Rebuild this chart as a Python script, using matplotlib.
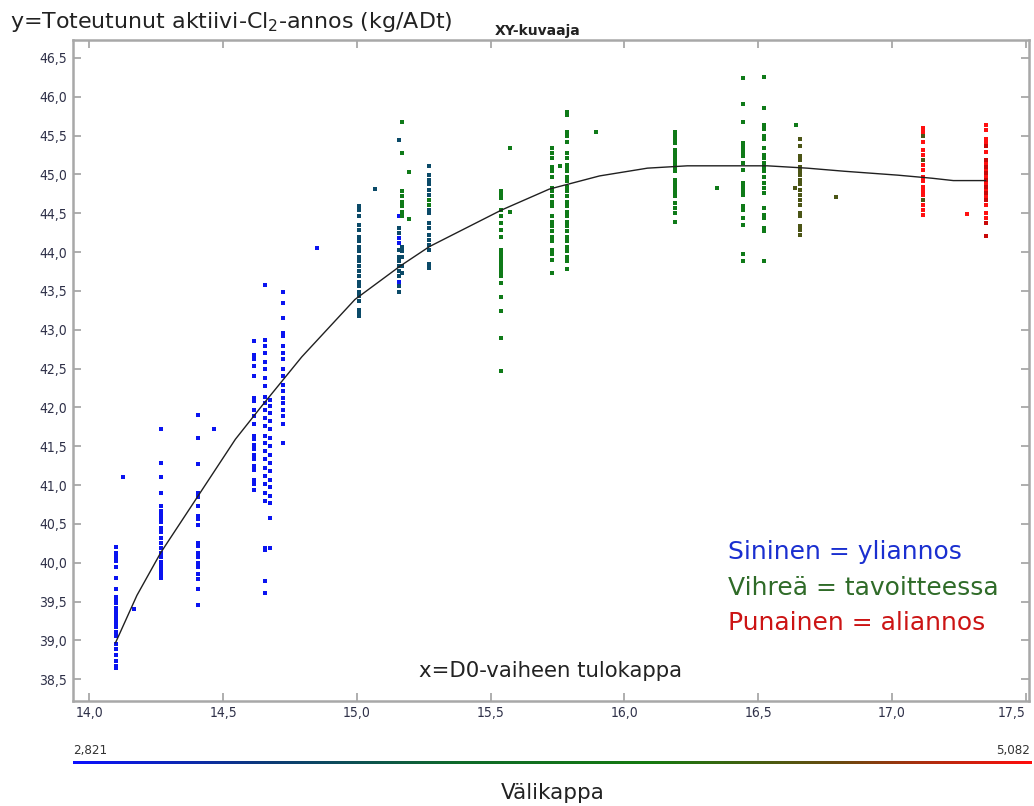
import numpy as np
import matplotlib
matplotlib.use("Agg")
import matplotlib.pyplot as plt
from matplotlib.colors import LinearSegmentedColormap
from matplotlib.ticker import FixedLocator, MultipleLocator, FuncFormatter
from matplotlib.font_manager import FontProperties

# --- fitted curve ---
curve_x = [14.098, 14.178, 14.267, 14.397, 14.546, 14.645, 14.794, 14.993, 15.162,
           15.271, 15.540, 15.719, 15.907, 16.086, 16.235, 16.534, 16.683, 16.822,
           17.021, 17.150, 17.229, 17.349]
curve_y = [38.97, 39.58, 40.13, 40.81, 41.59, 42.02, 42.65, 43.39, 43.82, 44.07,
           44.54, 44.81, 44.98, 45.08, 45.11, 45.11, 45.08, 45.04, 44.99, 44.95,
           44.92, 44.92]

x_ticks = [14.0, 14.5, 15.0, 15.5, 16.0, 16.5, 17.0, 17.5]

# --- measured points, grouped by colour, one list of y values per x column ---
blue_x = [14.098, 14.125, 14.168, 14.267, 14.407, 14.466, 14.615, 14.655, 14.675,
          14.725, 14.850, 15.157]
blue_y = [
    [40.20, 40.13, 40.08, 40.02, 39.94, 39.81, 39.66, 39.56, 39.52, 39.48, 39.42,
     39.36, 39.31, 39.26, 39.22, 39.17, 39.11, 39.06, 38.95, 38.89, 38.81, 38.74,
     38.67, 38.64],
    [41.10],
    [39.41],
    [41.72, 41.29, 41.10, 40.90, 40.73, 40.67, 40.62, 40.57, 40.52, 40.45, 40.39,
     40.32, 40.26, 40.19, 40.13, 40.07, 40.01, 39.96, 39.91, 39.86, 39.81],
    [41.90, 41.60, 41.27, 40.90, 40.85, 40.73, 40.60, 40.56, 40.49, 40.26, 40.21,
     40.13, 40.07, 40.00, 39.94, 39.85, 39.79, 39.66, 39.45],
    [41.72],
    [42.85, 42.68, 42.62, 42.53, 42.40, 42.12, 42.08, 41.97, 41.89, 41.78, 41.63,
     41.59, 41.52, 41.46, 41.39, 41.33, 41.24, 41.20, 41.07, 41.01, 40.94],
    [43.58, 42.87, 42.79, 42.70, 42.59, 42.49, 42.38, 42.27, 42.14, 42.06, 41.97,
     41.87, 41.76, 41.63, 41.54, 41.44, 41.33, 41.22, 41.12, 41.01, 40.90, 40.79,
     40.19, 40.17, 39.77, 39.61],
    [42.10, 42.02, 41.93, 41.82, 41.72, 41.61, 41.50, 41.39, 41.29, 41.18, 41.07,
     40.97, 40.86, 40.77, 40.58, 40.19],
    [43.49, 43.34, 43.15, 42.96, 42.92, 42.79, 42.70, 42.62, 42.49, 42.40, 42.29,
     42.21, 42.12, 42.06, 41.97, 41.89, 41.78, 41.54],
    [44.05],
    [44.46, 44.18, 44.12, 43.62],
]

teal_x = [15.008, 15.068, 15.157, 15.170, 15.271]
teal_y = [
    [44.59, 44.54, 44.46, 44.35, 44.29, 44.20, 44.14, 44.07, 44.01, 43.94, 43.88,
     43.82, 43.75, 43.69, 43.62, 43.56, 43.49, 43.43, 43.37, 43.26, 43.22, 43.18],
    [44.81],
    [45.44, 44.31, 44.25, 44.03, 43.94, 43.88, 43.82, 43.75, 43.69, 43.56, 43.49],
    [44.07, 44.01, 43.94, 43.82, 43.73],
    [45.11, 44.99, 44.93, 44.87, 44.80, 44.74, 44.54, 44.50, 44.37, 44.31, 44.22,
     44.16, 44.09, 44.03, 43.84, 43.80],
]

green_x = [15.170, 15.196, 15.271, 15.539, 15.573, 15.728, 15.759, 15.784, 15.894,
           16.190, 16.347, 16.444, 16.522, 16.641]
green_y = [
    [45.67, 45.27, 44.78, 44.72, 44.65, 44.59, 44.52, 44.46],
    [45.03, 44.42],
    [44.67, 44.61],
    [44.78, 44.74, 44.70, 44.54, 44.46, 44.37, 44.29, 44.20, 44.03, 43.99, 43.94,
     43.90, 43.86, 43.82, 43.77, 43.73, 43.69, 43.60, 43.42, 43.24, 42.89, 42.47],
    [45.34, 44.52],
    [45.34, 45.27, 45.21, 45.10, 45.04, 44.97, 44.82, 44.78, 44.72, 44.65, 44.59,
     44.46, 44.39, 44.33, 44.27, 44.20, 44.14, 44.03, 43.97, 43.90, 43.73],
    [45.11],
    [45.80, 45.77, 45.55, 45.49, 45.42, 45.27, 45.21, 45.12, 45.08, 45.04, 44.97,
     44.91, 44.84, 44.78, 44.72, 44.65, 44.59, 44.52, 44.46, 44.39, 44.33, 44.27,
     44.20, 44.14, 44.07, 44.01, 43.94, 43.88, 43.78],
    [45.54],
    [45.55, 45.51, 45.45, 45.40, 45.32, 45.27, 45.23, 45.19, 45.15, 45.10, 45.04,
     44.93, 44.89, 44.84, 44.80, 44.76, 44.72, 44.63, 44.57, 44.50, 44.39],
    [44.82],
    [46.24, 45.90, 45.67, 45.40, 45.36, 45.32, 45.27, 45.23, 45.15, 45.06, 44.89,
     44.84, 44.78, 44.74, 44.59, 44.54, 44.44, 44.35, 43.98, 43.89],
    [46.25, 45.85, 45.63, 45.58, 45.49, 45.45, 45.34, 45.25, 45.21, 45.15, 45.10,
     45.04, 44.97, 44.89, 44.82, 44.76, 44.57, 44.48, 44.44, 44.31, 44.27, 43.88],
    [45.63],
]

olive_x = [16.637, 16.656, 16.790, 17.117]
olive_y = [
    [44.82],
    [45.45, 45.37, 45.23, 45.19, 45.10, 45.04, 44.99, 44.93, 44.87, 44.80, 44.74,
     44.67, 44.61, 44.50, 44.46, 44.33, 44.29, 44.22],
    [44.71],
    [45.49, 45.19, 44.67],
]

red_x = [17.117, 17.281, 17.350]
red_y = [
    [45.60, 45.55, 45.42, 45.32, 45.25, 45.12, 45.06, 44.97, 44.91, 44.84, 44.78,
     44.74, 44.61, 44.54, 44.48],
    [44.49],
    [45.64, 45.57, 45.45, 45.40, 45.29, 45.15, 45.06, 44.97, 44.89, 44.80, 44.72,
     44.61, 44.50, 44.44],
]

darkred_x = [17.350]
darkred_y = [
    [45.36, 45.19, 45.10, 45.02, 44.93, 44.84, 44.76, 44.67, 44.37, 44.21],
]

groups = [
    (blue_x, blue_y, "#0a14f0"),
    (teal_x, teal_y, "#0b4a68"),
    (green_x, green_y, "#0f7a18"),
    (olive_x, olive_y, "#4b5516"),
    (red_x, red_y, "#ff1010"),
    (darkred_x, darkred_y, "#c80808"),
]

tick_fp = FontProperties(family="DejaVu Sans", stretch="condensed", size=10)
small_fp = FontProperties(family="DejaVu Sans", stretch="condensed", size=9.5)
text_font = "DejaVu Sans"

fig = plt.figure(figsize=(10.34, 8.06), dpi=100)
ax = fig.add_axes([0.0703, 0.1307, 0.9249, 0.8197])

for xs, ys, col in groups:
    for x, col_y in zip(xs, ys):
        ax.scatter([x] * len(col_y), col_y, marker="s", s=12, color=col,
                   linewidths=0, zorder=2)

ax.plot(curve_x, curve_y, color="#202020", lw=1.0, zorder=3)

ax.set_xlim(13.938, 17.512)
ax.set_ylim(38.225, 46.73)
ax.xaxis.set_major_locator(FixedLocator(x_ticks))
ax.yaxis.set_major_locator(MultipleLocator(0.5))
comma = FuncFormatter(lambda v, p: f"{v:.1f}".replace(".", ","))
ax.xaxis.set_major_formatter(comma)
ax.yaxis.set_major_formatter(comma)

for s in ax.spines.values():
    s.set_color("#a8a8a8")
    s.set_linewidth(1.8)

ax.tick_params(axis="both", which="major", direction="in", length=6,
               width=1.3, color="#a8a8a8", labelcolor="#2e3048",
               top=True, right=True, pad=4)
for lab in ax.get_xticklabels() + ax.get_yticklabels():
    lab.set_fontproperties(tick_fp)
# last x label is pushed inside the figure edge, as in the original
ax.xaxis.get_major_ticks()[-1].label1.set_horizontalalignment("right")

ax.text(0.5, 0.045, "x=D0-vaiheen tulokappa", transform=ax.transAxes,
        ha="center", va="center", fontsize=15.3, color="#222222", family=text_font)

ax.text(0.6854, 0.225, "Sininen = yliannos", transform=ax.transAxes,
        fontsize=18, color="#1a2fd0", family=text_font, va="center")
ax.text(0.6854, 0.170, "Vihreä = tavoitteessa", transform=ax.transAxes,
        fontsize=18, color="#2f6b28", family=text_font, va="center")
ax.text(0.6854, 0.117, "Punainen = aliannos", transform=ax.transAxes,
        fontsize=18, color="#cc1414", family=text_font, va="center")

fig.text(0.0097, 0.973, "y=Toteutunut aktiivi-Cl$_2$-annos (kg/ADt)",
         fontsize=15.9, color="#222222", family=text_font, va="center")
fig.text(0.520, 0.961, "XY-kuvaaja", fontsize=10, fontweight="bold",
         color="#222222", family=text_font, ha="center", va="center")

# colour scale for Välikappa
cmap = LinearSegmentedColormap.from_list(
    "vk", ["#0c10ff", "#0c3a78", "#0f6a2a", "#157a10", "#6a4a10", "#ff0c0c"])
cax = fig.add_axes([0.0703, 0.0515, 0.9265, 0.0045])
cax.imshow(np.linspace(0, 1, 512)[None, :], aspect="auto", cmap=cmap)
cax.set_axis_off()
fig.text(0.0706, 0.069, "2,821", color="#333333", fontproperties=small_fp,
         ha="left", va="center")
fig.text(0.996, 0.069, "5,082", color="#333333", fontproperties=small_fp,
         ha="right", va="center")
fig.text(0.535, 0.016, "Välikappa", fontsize=15.5, color="#222222",
         family=text_font, ha="center", va="center")

fig.savefig("out.png", dpi=100)
